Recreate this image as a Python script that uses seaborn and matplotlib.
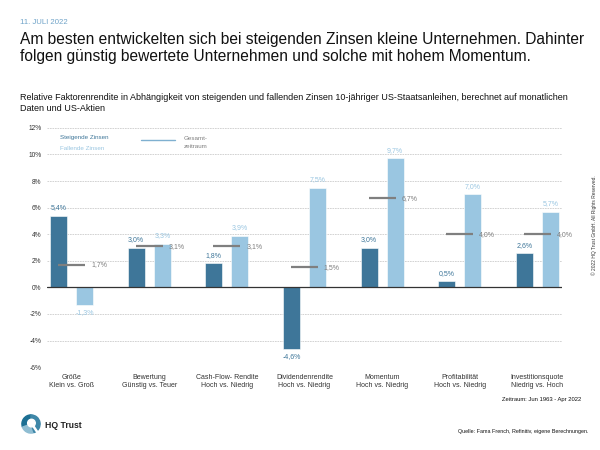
import numpy as np
import pandas as pd
import matplotlib
matplotlib.use("Agg")
import matplotlib.pyplot as plt
import seaborn as sns
from matplotlib.patches import Circle, Wedge

categories = [
    "Größe\nKlein vs. Groß",
    "Bewertung\nGünstig vs. Teuer",
    "Cash-Flow- Rendite\nHoch vs. Niedrig",
    "Dividendenrendite\nHoch vs. Niedrig",
    "Momentum\nHoch vs. Niedrig",
    "Profitabilität\nHoch vs. Niedrig",
    "Investitionsquote\nNiedrig vs. Hoch",
]
steigende = [5.4, 3.0, 1.8, -4.6, 3.0, 0.5, 2.6]
fallende = [-1.3, 3.3, 3.9, 7.5, 9.7, 7.0, 5.7]
gesamt = [1.7, 3.1, 3.1, 1.5, 6.7, 4.0, 4.0]
yticks = [-6, -4, -2, 0, 2, 4, 6, 8, 10, 12]

DARK = "#3e7699"
LIGHT = "#9ac6e1"
GREY = "#7f7f7f"
DATE = "#6fa3c8"

df = pd.DataFrame({
    "Faktor": categories * 2,
    "Rendite": steigende + fallende,
    "Phase": ["Steigende Zinsen"] * len(categories) + ["Fallende Zinsen"] * len(categories),
})

sns.set_theme(style="white")
plt.rcParams["font.family"] = ["Liberation Sans", "DejaVu Sans"]

fig = plt.figure(figsize=(6, 4.5), dpi=100)
ax = fig.add_axes([0.078, 0.184, 0.859, 0.532])

sns.barplot(data=df, x="Faktor", y="Rendite", hue="Phase", order=categories,
            hue_order=["Steigende Zinsen", "Fallende Zinsen"],
            palette=[DARK, LIGHT], saturation=1, width=0.672, gap=0.345, ax=ax,
            edgecolor="white", linewidth=0.4, legend=False, errorbar=None)

# value labels
for cont, vals, col in zip(ax.containers, [steigende, fallende], [DARK, LIGHT]):
    labels = [f"{v:.1f}%".replace(".", ",") for v in vals]
    ax.bar_label(cont, labels=labels, padding=3, fontsize=5, color=col)

# Gesamtzeitraum markers
xs = np.arange(len(categories))
ax.hlines(gesamt, xs - 0.175, xs + 0.175, color=GREY, linewidth=1.6, zorder=5)
for x, g in zip(xs, gesamt):
    ax.text(x + 0.25, g, f"{g:.1f}%".replace(".", ","), fontsize=5, color=GREY,
            va="center", ha="left")

ax.set_ylim(-6, 12)
ax.set_xlim(-0.32, len(categories) - 0.68)
ax.set_yticks(yticks)
ax.set_yticklabels([f"{t}%" for t in yticks], fontsize=4.8, color="#333333")
ax.yaxis.grid(True, linestyle=(0, (2, 1)), color="#cccccc", linewidth=0.6)
ax.set_axisbelow(True)
ax.axhline(0, color="#333333", linewidth=0.9, zorder=4)
for s in ax.spines.values():
    s.set_visible(False)
ax.tick_params(axis="both", length=0)
ax.tick_params(axis="x", pad=5, labelsize=5, labelcolor="#333333")
ax.tick_params(axis="y", pad=4)
ax.set_xlabel("")
ax.set_ylabel("")

# legend drawn as text
ax.text(-0.155, 11.3, "Steigende Zinsen", fontsize=4.5, color=DARK, va="center")
ax.text(-0.155, 10.47, "Fallende Zinsen", fontsize=4.5, color=LIGHT, va="center")
ax.plot([0.9, 1.33], [11.07, 11.07], color="#7fb0d0", linewidth=1)
ax.text(1.6, 10.88, "Gesamt-\nzeitraum", fontsize=4.5, color=GREY, va="center",
        ha="center", linespacing=1.6)

# header texts
fig.text(20 / 600, 1 - 22 / 450, "11. JULI 2022", fontsize=5.6, color=DATE, va="center")
fig.text(20 / 600, 1 - 48 / 450,
         "Am besten entwickelten sich bei steigenden Zinsen kleine Unternehmen. Dahinter\n"
         "folgen günstig bewertete Unternehmen und solche mit hohem Momentum.",
         fontsize=11.2, color="#111111", va="center", linespacing=1.15)
fig.text(20 / 600, 1 - 103 / 450,
         "Relative Faktorenrendite in Abhängigkeit von steigenden und fallenden Zinsen 10-jähriger "
         "US-Staatsanleihen, berechnet auf monatlichen\nDaten und US-Aktien",
         fontsize=6.5, color="#111111", va="center", linespacing=1.15)
fig.text(502 / 600, 1 - 400 / 450, "Zeitraum: Jun 1963 - Apr 2022", fontsize=4.2,
         color="#111111", va="center")
fig.text(458 / 600, 1 - 431 / 450, "Quelle: Fama French, Refinitiv, eigene Berechnungen.",
         fontsize=3.85, color="#111111", va="center")
fig.text(594 / 600, 1 - 225 / 450, "© 2022 HQ Trust GmbH. All Rights Reserved.",
         fontsize=3.5, color="#333333", rotation=90, va="center", ha="center")

# logo
lax = fig.add_axes([20 / 600, 1 - 434 / 450, 22 / 600, 20 / 450])
lax.set_xlim(-1.1, 1.1)
lax.set_ylim(-1.1, 1.1)
lax.set_aspect("equal")
lax.axis("off")
lax.add_patch(Wedge((0, 0), 1.0, 90, 200, color="#1c6f93"))
lax.add_patch(Wedge((0, 0), 1.0, 200, 290, color="#8fbdd2"))
lax.add_patch(Wedge((0, 0), 1.0, 290, 450, color="#3f87a8"))
lax.add_patch(Circle((0.05, 0.1), 0.42, color="white"))
lax.plot([0.1, 0.7], [0.0, -0.9], color="white", linewidth=1.8)
fig.text(45 / 600, 1 - 425 / 450, "HQ Trust", fontsize=6.2, fontweight="bold",
         color="#222222", va="center")

fig.savefig("out.png", dpi=100)
